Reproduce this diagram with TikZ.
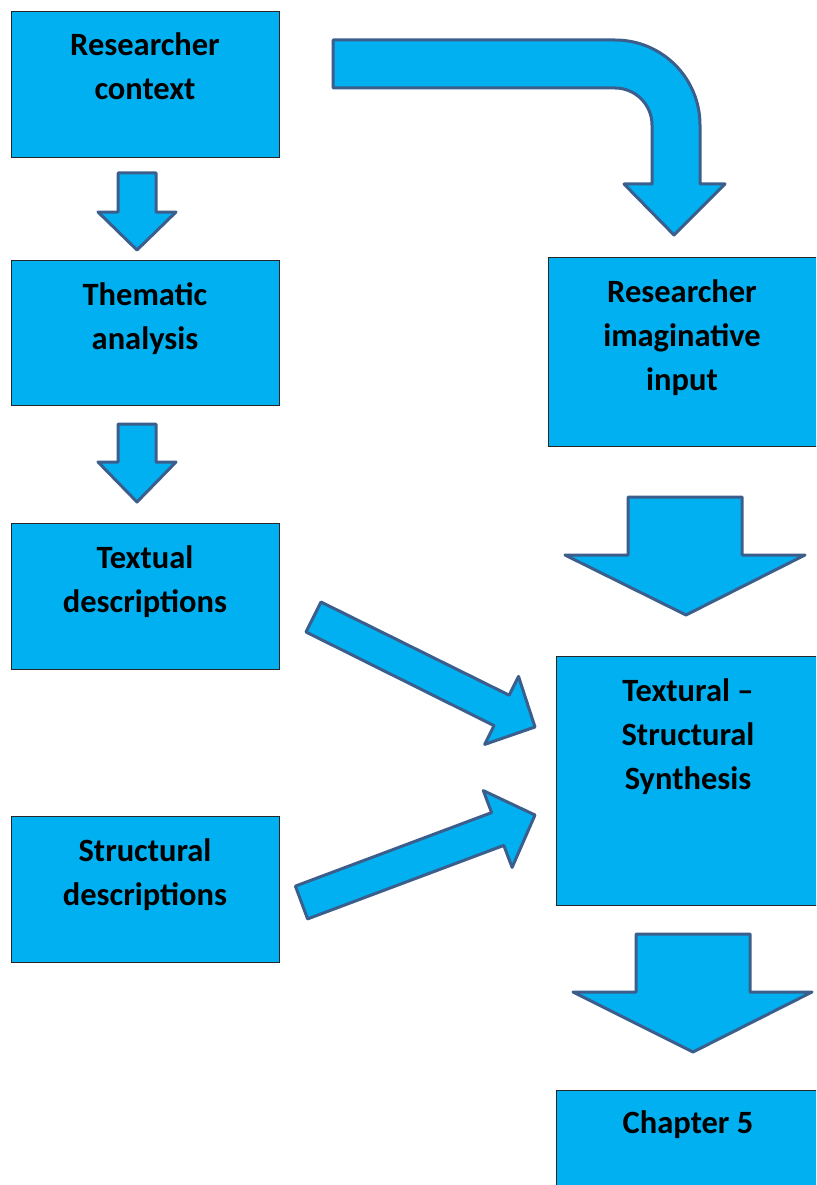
\documentclass[tikz,border=0pt]{standalone}
\usepackage{fontspec}
\setmainfont{Carlito}
\definecolor{boxfill}{HTML}{00B0F0}
\definecolor{arrowline}{HTML}{3B5E8C}
\definecolor{boxline}{HTML}{262626}
\begin{document}
\begin{tikzpicture}[x=1pt,y=-1pt,
  box/.style={draw=boxline, line width=1.3pt, fill=boxfill, anchor=north west, inner sep=0pt},
  % anchored at the baseline of the last line of text
  boxtext/.style={anchor=base, align=center, inner sep=0pt,
    font=\bfseries\fontsize{32.5}{44}\selectfont},
  blockarrow/.style={draw=arrowline, line width=3pt, fill=boxfill, line join=round}]
\useasboundingbox (0,0) rectangle (816,1185);
\clip (0,0) rectangle (816,1185);

% left column
\node[box, minimum width=268pt, minimum height=146pt] (ctx) at (11,11) {};
\node[boxtext] (ctxT) at (145,100) {Researcher\\context};
\node[box, minimum width=268pt, minimum height=145pt] (them) at (11,260) {};
\node[boxtext] (themT) at (145,349) {Thematic\\analysis};
\node[box, minimum width=268pt, minimum height=146pt] (text) at (11,523) {};
\node[boxtext] (textT) at (145,612) {Textual\\descriptions};
\node[box, minimum width=268pt, minimum height=146pt] (struc) at (11,816) {};
\node[boxtext] (strucT) at (145,905) {Structural\\descriptions};

% right column
\node[box, minimum width=270pt, minimum height=189pt] (imag) at (548,257) {};
\node[boxtext] (imagT) at (682,390) {Researcher\\imaginative\\input};
\node[box, minimum width=262pt, minimum height=249pt] (synth) at (556,656) {};
\node[boxtext] (synthT) at (688,789) {Textural –\\Structural\\Synthesis};
\node[box, minimum width=262pt, minimum height=130pt] (chap) at (556,1090) {};
\node[boxtext] (chapT) at (688,1133) {Chapter 5};

% small down arrows
\draw[blockarrow] (118,173) -- (156,173) -- (156,212) -- (176,212) -- (137,250)
  -- (98,212) -- (118,212) -- cycle;
\draw[blockarrow] (118,424) -- (156,424) -- (156,462) -- (176,462) -- (137,502)
  -- (98,462) -- (118,462) -- cycle;

% large down arrows
\draw[blockarrow] (628,497) -- (742,497) -- (742,555) -- (805,555) -- (686,615)
  -- (565,555) -- (628,555) -- cycle;
\draw[blockarrow] (636,934) -- (750,934) -- (750,992) -- (812,992) -- (693,1052)
  -- (573,992) -- (636,992) -- cycle;

% bent arrow from the context box over to the imaginative input
\draw[blockarrow] (333,40) -- (615,40) .. controls (662,40) and (700,78) .. (700,125)
  -- (700,184) -- (725,184) -- (674,235) -- (624,184) -- (652,184) -- (652,125)
  .. controls (652,104.6) and (635.4,88) .. (615,88) -- (333,88) -- cycle;

% diagonal arrows into the synthesis box
\draw[blockarrow] (321,602) -- (509.2,695.2) -- (518.5,676.4) -- (535,727)
  -- (484.7,744.4) -- (494.0,725.6) -- (306,632) -- cycle;
\draw[blockarrow] (295.4,886.1) -- (491.6,812.6) -- (483.3,790.6) -- (535,815)
  -- (512.1,867.4) -- (503.8,845.4) -- (307.6,918.9) -- cycle;
\end{tikzpicture}
\end{document}
